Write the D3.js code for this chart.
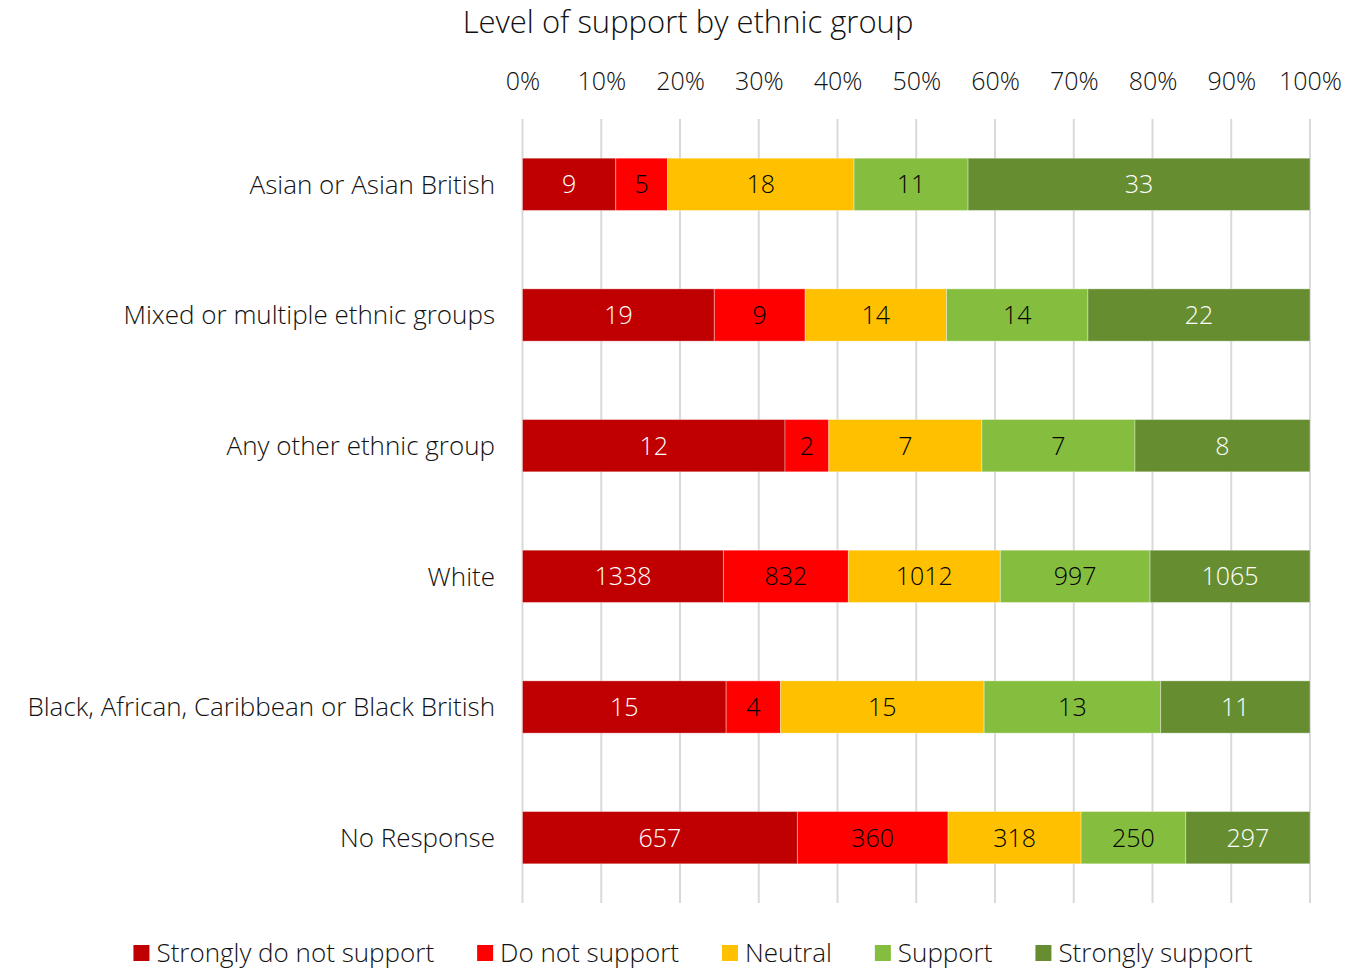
<!DOCTYPE html>
<html>
<head>
<meta charset="utf-8">
<script src="https://cdn.jsdelivr.net/npm/d3@7"></script>
<style>
  html, body { margin: 0; padding: 0; background: #fff; }
  svg { display: block; font-family: "Open Sans", "Noto Sans", sans-serif; font-weight: 300; }
</style>
</head>
<body>
<svg id="chart" width="1367" height="970"></svg>
<script>
// Survey responses per ethnic group
const groups = [
  "Asian or Asian British",
  "Mixed or multiple ethnic groups",
  "Any other ethnic group",
  "White",
  "Black, African, Caribbean or Black British",
  "No Response"
];
const responses = ["Strongly do not support", "Do not support", "Neutral", "Support", "Strongly support"];
const stronglyDoNotSupport = [9, 19, 12, 1338, 15, 657];
const doNotSupport         = [5, 9, 2, 832, 4, 360];
const neutral              = [18, 14, 7, 1012, 15, 318];
const support              = [11, 14, 7, 997, 13, 250];
const stronglySupport      = [33, 22, 8, 1065, 11, 297];
const tickValues = [0, 0.1, 0.2, 0.3, 0.4, 0.5, 0.6, 0.7, 0.8, 0.9, 1.0];

const colors = ["#C00000", "#FF0000", "#FFC000", "#85BD3F", "#668E31"];
const labelColors = ["#ffffff", "#000000", "#000000", "#000000", "#ffffff"];

const seriesValues = [stronglyDoNotSupport, doNotSupport, neutral, support, stronglySupport];
const rows = groups.map((g, i) => {
  const row = { group: g };
  responses.forEach((r, k) => { row[r] = seriesValues[k][i]; });
  return row;
});

const stack = d3.stack().keys(responses).offset(d3.stackOffsetExpand);
const layers = stack(rows);

const svg = d3.select("#chart");
const x = d3.scaleLinear().domain([0, 1]).range([522.5, 1310]);
const y = d3.scaleBand().domain(groups).range([119, 903]).paddingInner(0.6).paddingOuter(0.3);

// Title
svg.append("text")
  .attr("x", 688).attr("y", 33)
  .attr("text-anchor", "middle")
  .attr("font-size", 31).attr("fill", "#111")
  .text("Level of support by ethnic group");

// Gridlines
svg.append("g")
  .selectAll("line")
  .data(tickValues)
  .join("line")
  .attr("x1", d => x(d)).attr("x2", d => x(d))
  .attr("y1", 119).attr("y2", 903)
  .attr("stroke", "#d9d9d9").attr("stroke-width", 2);

// Top percentage axis
const xAxis = svg.append("g")
  .attr("transform", "translate(0,90)")
  .call(d3.axisTop(x).tickValues(tickValues).tickFormat(d3.format(".0%")).tickSize(0).tickPadding(0))
  .attr("font-family", null).attr("font-size", null);
xAxis.select(".domain").remove();
xAxis.selectAll("text")
  .attr("font-size", 25).attr("fill", "#111");

// Category axis
const yAxis = svg.append("g")
  .attr("transform", "translate(495,0)")
  .call(d3.axisLeft(y).tickSize(0).tickPadding(0))
  .attr("font-family", null).attr("font-size", null);
yAxis.select(".domain").remove();
yAxis.selectAll("text")
  .attr("font-size", 26).attr("fill", "#111")
  .attr("dy", "0.36em");

// Stacked bars
const layerG = svg.append("g")
  .selectAll("g")
  .data(layers)
  .join("g")
  .attr("fill", (d, i) => colors[i]);

layerG.selectAll("rect")
  .data(d => d)
  .join("rect")
  .attr("x", d => x(d[0]))
  .attr("y", d => y(d.data.group))
  .attr("width", d => x(d[1]) - x(d[0]))
  .attr("height", y.bandwidth())
  .attr("stroke", "rgba(255,255,255,0.35)")
  .attr("stroke-width", 1);

// Value labels
layerG.selectAll("text")
  .data((d, i) => d.map(v => ({ v, key: d.key, i })))
  .join("text")
  .attr("x", d => (x(d.v[0]) + x(d.v[1])) / 2)
  .attr("y", d => y(d.v.data.group) + y.bandwidth() / 2)
  .attr("dy", "0.36em")
  .attr("text-anchor", "middle")
  .attr("font-size", 25)
  .attr("fill", d => labelColors[d.i])
  .text(d => d.v.data[d.key]);

// Legend
const legend = svg.append("g").attr("transform", "translate(0,953)");
const items = legend.selectAll("g").data(responses).join("g");
items.append("rect")
  .attr("y", -8).attr("width", 16).attr("height", 16)
  .attr("fill", (d, i) => colors[i]);
items.append("text")
  .attr("x", 23).attr("dy", "0.36em")
  .attr("font-size", 26).attr("fill", "#111")
  .text(d => d);
let offset = 0;
const positions = [];
items.each(function () {
  positions.push(offset);
  const w = this.querySelector("text").getComputedTextLength();
  offset += 23 + w + 43;
});
const total = offset - 43;
const startX = 693 - total / 2;
items.attr("transform", (d, i) => `translate(${startX + positions[i]},0)`);
</script>
</body>
</html>
